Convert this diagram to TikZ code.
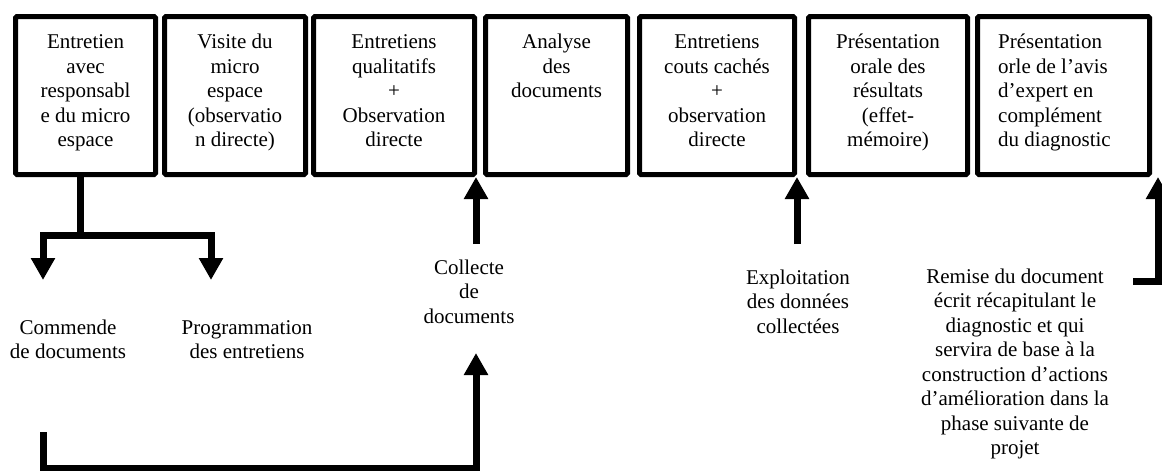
\documentclass[tikz,border=0pt]{standalone}
\usepackage{fontspec}
\setmainfont{Liberation Serif}
\usetikzlibrary{arrows.meta}
% fixed first-line height so every text block starts from the same baseline
\newcommand\lnstrut{\rule{0pt}{16pt}}
\begin{document}
\begin{tikzpicture}[x=1pt,y=-1pt,
  stepbox/.style={draw, line width=5pt, rounded corners=1.5pt,
    minimum height=158pt, inner sep=0pt, outer sep=0pt},
  boxtext/.style={anchor=north, inner sep=0pt, align=center,
    font=\fontsize{21}{24.5}\selectfont},
  note/.style={boxtext},
  conn/.style={line width=7pt, line join=miter},
  tip/.style={-{Triangle[width=23pt,length=22pt]}},
  twotips/.style={{Triangle[width=23pt,length=22pt]}-{Triangle[width=23pt,length=22pt]}}
]
\useasboundingbox (0,0) rectangle (1162,471);
\clip (0,0) rectangle (1162,471);

% the seven stages
\node[stepbox, minimum width=140pt] (b1) at (85.5,95.5) {};
\node[stepbox, minimum width=141pt] (b2) at (235,95.5) {};
\node[stepbox, minimum width=161pt] (b3) at (394,95.5) {};
\node[stepbox, minimum width=142pt] (b4) at (556.5,95.5) {};
\node[stepbox, minimum width=155pt] (b5) at (717,95.5) {};
\node[stepbox, minimum width=159pt] (b6) at (888,95.5) {};
\node[stepbox, minimum width=172pt] (b7) at (1063.5,95.5) {};

\node[boxtext] (t1) at (85.5,32.5) {\lnstrut Entretien\\avec\\responsabl\\e du micro\\espace};
\node[boxtext] (t2) at (235,32.5) {\lnstrut Visite du\\micro\\espace\\(observatio\\n directe)};
\node[boxtext] (t3) at (394,32.5) {\lnstrut Entretiens\\qualitatifs\\+\\Observation\\directe};
\node[boxtext] (t4) at (556.5,32.5) {\lnstrut Analyse\\des\\documents};
\node[boxtext] (t5) at (717,32.5) {\lnstrut Entretiens\\couts cachés\\+\\observation\\directe};
\node[boxtext] (t6) at (888,32.5) {\lnstrut Présentation\\orale des\\résultats\\(effet-\\mémoire)};
\node[boxtext, anchor=north west, align=left] (t7) at (998,32.5)
  {\lnstrut Présentation\\orle de l’avis\\d’expert en\\complément\\du diagnostic};

% notes under the stages
\node[note] (cmd) at (68,318) {\lnstrut Commende\\de documents};
\node[note] (prg) at (247,318) {\lnstrut Programmation\\des entretiens};
\node[note] (col) at (469,258) {\lnstrut Collecte\\de\\documents};
\node[note] (exp) at (798,268) {\lnstrut Exploitation\\des données\\collectées};
\node[note] (rem) at (1015,267) {\lnstrut Remise du document\\écrit récapitulant le\\diagnostic et qui\\servira de base à la\\construction d’actions\\d’amélioration dans la\\phase suivante de\\projet};

% connector points
\coordinate (fork) at (80,235);
\coordinate (forkl) at (43,235);
\coordinate (forkr) at (211,235);
\coordinate (cmdtip) at (43,280);
\coordinate (prgtip) at (211,280);
\coordinate (colfoot) at (476,244);
\coordinate (coltip) at (476,177);
\coordinate (retstart) at (43,432);
\coordinate (retl) at (43,468);
\coordinate (retr) at (476,468);
\coordinate (rettip) at (476,353);
\coordinate (expfoot) at (797,244);
\coordinate (exptip) at (797,177);
\coordinate (remstart) at (1133,281);
\coordinate (remcorner) at (1158,281);
\coordinate (remtip) at (1158,177);

% connectors
\draw[conn] (b1.south -| fork) -- (fork);
\draw[conn, twotips] (cmdtip) -- (forkl) -- (forkr) -- (prgtip);
\draw[conn, tip] (colfoot) -- (coltip);
\draw[conn, tip] (retstart) -- (retl) -- (retr) -- (rettip);
\draw[conn, tip] (expfoot) -- (exptip);
\draw[conn, tip] (remstart) -- (remcorner) -- (remtip);
\end{tikzpicture}
\end{document}
